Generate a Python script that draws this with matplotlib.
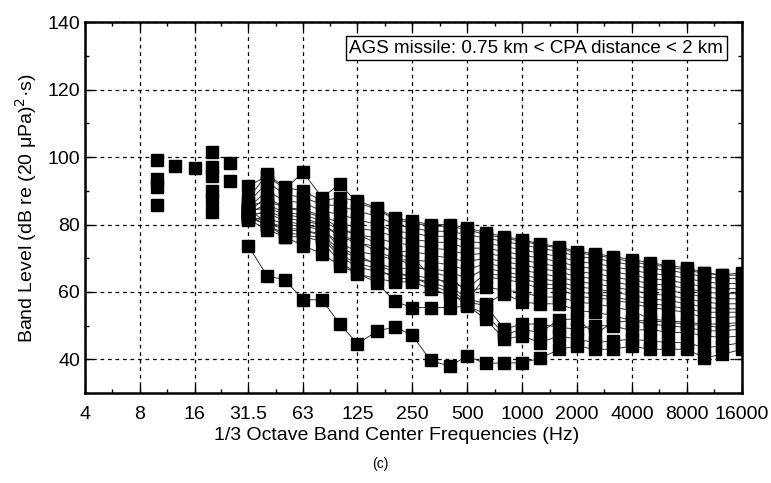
import numpy as np
import matplotlib.pyplot as plt
from matplotlib.ticker import FixedLocator, NullFormatter

plt.rcParams['font.family'] = ['Liberation Sans', 'DejaVu Sans']

# 1/3 octave band centre frequencies (Hz) used by the connected series
bands = [31.5, 40, 50, 63, 80, 100, 125, 160, 200, 250, 315, 400, 500, 630, 800,
         1000, 1250, 1600, 2000, 2500, 3150, 4000, 5000, 6300, 8000, 10000, 12500, 16000]

# band levels of each event (dB re (20 uPa)^2 s)
s_top = [91.3, 94.5, 90.5, 95.5, 88, 92, 86.5, 84.5, 81.5, 80.5, 79.5, 79.5, 78.5, 77, 76, 75, 74, 73, 71.5, 71, 70, 69, 68, 67.5, 66.5, 65.5, 65, 65]
u1 = [87.6, 95, 91, 90, 87, 88, 87, 85, 82, 81, 80, 80, 79, 77.6, 76.4, 75.5, 74.3, 73.4, 72, 71.4, 70.5, 69.6, 68.7, 67.8, 67.2, 65.7, 65.1, 65.7]
u2 = [86.5, 92.5, 89, 88, 86, 85.5, 84, 82.5, 80, 79, 78, 78, 77, 76, 75, 74, 73, 72, 70.5, 70, 69, 68, 67, 66.5, 65.5, 64.5, 64, 64]
u3 = [85, 90, 87, 86.5, 84, 83, 81.5, 80, 78, 77.5, 76.5, 76.5, 75, 74.5, 73.5, 72.5, 71.5, 70.5, 69, 68.5, 67.5, 66.5, 65.5, 65, 64, 63, 62.5, 62.5]
u4 = [84, 88, 85, 84.5, 82.5, 80.5, 79, 78, 76.5, 75.5, 75, 74.5, 73, 73, 72, 71, 70, 69, 67.5, 67, 66, 65, 64, 63.5, 62.5, 61.5, 61, 61]
u5 = [83.5, 86, 83.5, 83, 81, 78.5, 77, 76, 74.5, 74, 73, 72.5, 71, 71.5, 70.5, 69.5, 68.5, 67.5, 66, 65.5, 64.5, 63.5, 62.5, 62, 61, 60, 59.5, 59.5]
u6 = [82.5, 84, 82, 81, 80, 76.5, 74.5, 73.5, 72, 72, 71, 70, 69, 70, 69, 68, 67, 66, 64.5, 64, 63, 62, 61, 60.5, 59.5, 58.5, 58, 58]
u7 = [81.4, 82, 80, 79.5, 78.5, 74.5, 72, 71, 69.5, 69.5, 69, 68, 66.5, 68.5, 67.5, 66.5, 65.5, 64.5, 63, 62.5, 61.5, 60.5, 59.5, 59, 58, 57, 56.5, 56.5]
u8 = [84.5, 80.5, 78.5, 78, 77, 72.5, 70, 68.5, 67, 67, 67, 66, 64, 67, 66, 65, 64, 63, 61.5, 61, 60, 59, 58, 57.5, 56.5, 55.5, 55, 55]
u9 = [83, 79.5, 77.5, 77, 76, 70.5, 67.5, 66, 65, 65, 64, 63, 61, 65.5, 64.8, 64, 62.5, 62, 60, 59.5, 58.5, 57.5, 56.5, 56, 55, 54, 54, 54]
u10 = [82, 80, 76.4, 76.4, 75, 69, 65.3, 64, 63, 63, 61, 59, 57.5, 64.5, 63.7, 62.8, 61, 61, 58.6, 58.3, 57.7, 56.6, 55.4, 54.8, 53.9, 52.4, 52.4, 52.7]
m1 = [84, 85, 83, 82, 80, 77, 75, 72, 70, 68, 66, 64.5, 60, 61.5, 60.5, 60, 58.5, 58.5, 57, 56.5, 55.5, 54.5, 52, 51.5, 51, 50.5, 50.5, 51]
m2 = [85.5, 87, 85, 84, 82, 79, 77, 74.5, 71.5, 70, 65, 62, 58, 56.5, 59.5, 57, 56.5, 56.5, 54.5, 54, 53, 51.5, 50.5, 50, 49.5, 48.5, 48.5, 49]
m3 = [83, 83.5, 81, 80, 79, 73, 71, 68, 66, 64.5, 62, 60, 56, 52, 46, 47, 45, 47, 46, 45, 45.5, 46, 45.5, 45, 45, 43.5, 44, 45]
m4 = [82.5, 81, 79, 78.5, 77, 71, 68.5, 67, 64, 64, 63, 61, 57, 56, 49, 50.5, 50.5, 49.5, 49, 50, 50, 48.5, 49, 48, 48, 47, 46.5, 47]
s_b = [81.5, 78.5, 76.4, 73.7, 71.4, 67.8, 65.5, 62.8, 57.2, 55.4, 55.4, 55.4, 55.8, 53.5, 47.4, 48.9, 48, 51.8, 52, 47.5, 51, 51.5, 51.5, 51, 50.5, 50, 49.5, 50.5]
s_low = [73.7, 64.8, 63.6, 57.7, 57.7, 50.5, 44.7, 48.3, 49.7, 47.1, 39.7, 38, 41, 38.8, 39, 39, 40.3, 43, 44, 43, 43, 44, 43, 43, 43, 40.5, 41.5, 43]

series = [s_top, u1, u2, u3, u4, u5, u6, u7, u8, u9, u10, m1, m2, m3, m4, s_b, s_low]

# unconnected low-frequency points
lf_freq = [10, 10, 10, 10, 12.5, 16, 20, 20, 20, 20, 20, 20, 25, 25]
lf_level = [99, 93.5, 91, 85.9, 97.4, 96.8, 101.5, 97, 94.3, 90, 87.5, 83.8, 98.3, 93]

major_f = [4, 8, 16, 31.5, 63, 125, 250, 500, 1000, 2000, 4000, 8000, 16000]
major_lbl = ['4', '8', '16', '31.5', '63', '125', '250', '500', '1000', '2000', '4000', '8000', '16000']

fig = plt.figure(figsize=(7.71, 4.83), dpi=100)
ax = fig.add_axes([0.110, 0.186, 0.852, 0.768])

for s in series:
    ax.plot(bands, s, color='#333333', lw=0.7, marker='s', ms=8,
            mfc='black', mec='black', zorder=3)
ax.plot(lf_freq, lf_level, ls='none', marker='s', ms=8, mfc='black', mec='black', zorder=3)

ax.set_xscale('log')
ax.set_xlim(4, 16000)
ax.set_ylim(30, 140)
ax.xaxis.set_major_locator(FixedLocator(major_f))
ax.set_xticklabels(major_lbl)
mids = [np.sqrt(a * b) for a, b in zip(major_f[:-1], major_f[1:])]
ax.xaxis.set_minor_locator(FixedLocator(mids))
ax.xaxis.set_minor_formatter(NullFormatter())
ax.set_yticks([40, 60, 80, 100, 120, 140])
ax.set_yticks([30, 50, 70, 90, 110, 130], minor=True)

ax.grid(True, which='major', color='black', ls=(0, (3, 3)), lw=0.9)
ax.tick_params(which='both', direction='in', top=True, right=True, labelsize=14)
ax.tick_params(which='major', length=6, width=1)
ax.tick_params(which='minor', length=3, width=1)
ax.tick_params(axis='x', which='major', pad=9)
for sp in ax.spines.values():
    sp.set_linewidth(1.8)

ax.set_xlabel('1/3 Octave Band Center Frequencies (Hz)', fontsize=14)
ax.xaxis.set_label_coords(0.475, -0.092)
ax.set_ylabel('Band Level (dB re (20 μPa)$^2$·s)', fontsize=14, labelpad=6)
ax.text(0.972, 0.93, 'AGS missile: 0.75 km < CPA distance < 2 km', transform=ax.transAxes,
        ha='right', va='center', fontsize=13.5,
        bbox=dict(boxstyle='square,pad=0.2', fc='white', ec='black', lw=1))
fig.text(0.493, 0.04, '(c)', ha='center', va='center', fontsize=10)

fig.savefig('out.png', dpi=100)
